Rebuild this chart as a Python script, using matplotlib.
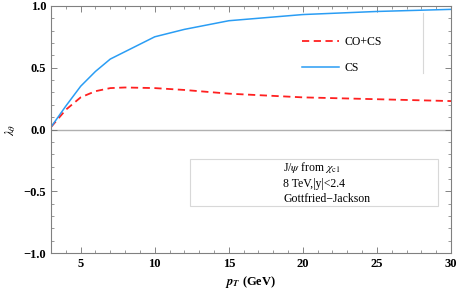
import numpy as np
import matplotlib.pyplot as plt
from matplotlib.ticker import MultipleLocator

pt = [3, 4, 5, 6, 7, 8, 10, 12, 15, 20, 25, 30]
lam_cs = [0.02, 0.19, 0.35, 0.47, 0.57, 0.63, 0.75, 0.81, 0.88, 0.93, 0.955, 0.972]
lam_cocs = [0.02, 0.16, 0.26, 0.31, 0.335, 0.34, 0.335, 0.32, 0.29, 0.26, 0.245, 0.23]

plt.rcParams['font.family'] = ['Liberation Serif', 'DejaVu Serif']
plt.rcParams['mathtext.fontset'] = 'stix'

fig = plt.figure(figsize=(4.64, 2.95), dpi=100)
ax = fig.add_axes([0.11, 0.142, 0.862, 0.838])

ax.axhline(0, color='#b0b0b0', lw=1.0, zorder=1)
l1, = ax.plot(pt, lam_cocs, color='#ff2020', lw=1.3, dashes=(4, 2.5), label='CO+CS')
l2, = ax.plot(pt, lam_cs, color='#2a9df4', lw=1.1, label='CS')

ax.set_xlim(3, 30)
ax.set_ylim(-1, 1)
ax.xaxis.set_major_locator(MultipleLocator(5))
ax.xaxis.set_minor_locator(MultipleLocator(1))
ax.yaxis.set_major_locator(MultipleLocator(0.5))
ax.yaxis.set_minor_locator(MultipleLocator(0.1))
ax.tick_params(which='both', direction='in', top=True, right=True, color='#707070')
ax.tick_params(which='major', length=4, width=0.6)
ax.tick_params(which='minor', length=2, width=0.5)
for s in ax.spines.values():
    s.set_color('#808080')
    s.set_linewidth(0.8)
for lab in ax.get_xticklabels() + ax.get_yticklabels():
    lab.set_fontweight('bold')
    lab.set_fontsize(9)
ax.set_yticks([-1, -0.5, 0, 0.5, 1])
ax.set_yticklabels(['\u22121.0', '\u22120.5', '0.0', '0.5', '1.0'], fontweight='bold', fontsize=9)

ax.set_xlabel(r'$\mathbfit{p}_\mathbfit{T}$ (GeV)', fontweight='bold', fontsize=9, labelpad=3)
ax.set_ylabel(r'$\lambda_\theta$', fontsize=9, labelpad=4)

leg = ax.legend(handles=[l1, l2], loc='upper left', bbox_to_anchor=(0.6, 0.92),
                frameon=False, fontsize=8.5, handlelength=3.2, labelspacing=1.2,
                handletextpad=0.4)
ax.plot([0.93, 0.93], [0.73, 0.97], transform=ax.transAxes, color='#d8d8d8', lw=0.8)

ax.text(0.58, 0.285, 'J/$\\psi$ from $\\chi_{\\mathrm{c1}}$\n8 TeV,|y|<2.4\nGottfried\u2212Jackson',
        transform=ax.transAxes, fontsize=8.5, va='center', ha='left', linespacing=1.3)
ax.add_patch(plt.Rectangle((0.348, 0.19), 0.62, 0.19, transform=ax.transAxes,
                           fill=False, ec='#d8d8d8', lw=0.8))

fig.savefig('out.png', dpi=100)
